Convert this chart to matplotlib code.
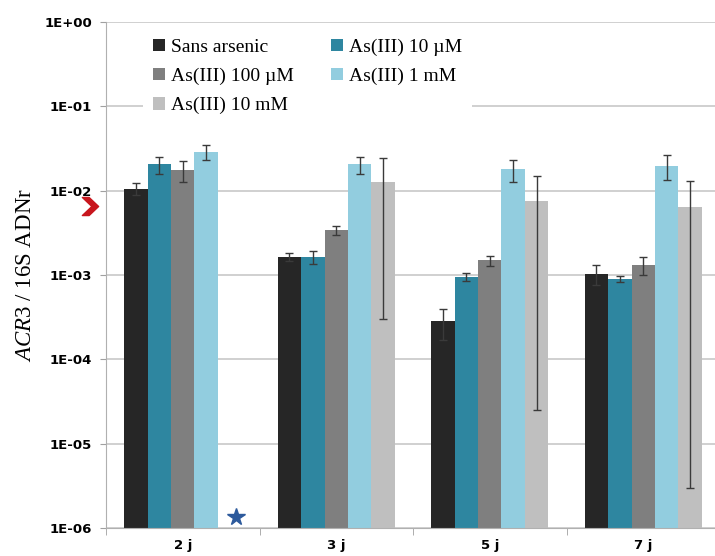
import numpy as np
import matplotlib.pyplot as plt
from matplotlib.path import Path

# data
days = ['2 j', '3 j', '5 j', '7 j']
series = ['Sans arsenic', 'As(III) 10 µM', 'As(III) 100 µM', 'As(III) 1 mM', 'As(III) 10 mM']
colors = ['#262626', '#2e86a0', '#7f7f7f', '#92cddf', '#bfbfbf']

sans_arsenic = [0.0106, 0.00164, 0.00028, 0.00104]
sans_arsenic_err = [0.0018, 0.00016, 0.00011, 0.00028]
as_10um = [0.0205, 0.00164, 0.00095, 0.00089]
as_10um_err = [0.0047, 0.0003, 0.0001, 0.00007]
as_100um = [0.0176, 0.00341, 0.00149, 0.00132]
as_100um_err = [0.0049, 0.0004, 0.0002, 0.00032]
as_1mm = [0.029, 0.0205, 0.0179, 0.0198]
as_1mm_err = [0.006, 0.0047, 0.0052, 0.0066]
as_10mm = [np.nan, 0.0125, 0.0075, 0.00644]
as_10mm_err = [np.nan, 0.0122, 0.007475, 0.006437]

values = [sans_arsenic, as_10um, as_100um, as_1mm, as_10mm]
errors = [sans_arsenic_err, as_10um_err, as_100um_err, as_1mm_err, as_10mm_err]

threshold = 0.0066   # red arrow on the y axis
missing_mark = 1.35e-6  # star where 10 mM is missing at 2 j

plt.rcParams['mathtext.fontset'] = 'custom'
plt.rcParams['mathtext.rm'] = 'Liberation Serif'
plt.rcParams['mathtext.it'] = 'Liberation Serif:italic'

fig = plt.figure(figsize=(7.15, 5.56), dpi=100)
ax = fig.add_axes([106 / 715, 28 / 556, 614 / 715, 506 / 556])

x = np.arange(len(days))
width = 0.153
for i, (vals, errs) in enumerate(zip(values, errors)):
    pos = x + (i - 2) * width
    ax.bar(pos, vals, width, bottom=1e-6, color=colors[i], label=series[i], zorder=2)
    ax.errorbar(pos, vals, yerr=errs, fmt='none', ecolor='#3a3a3a', elinewidth=1,
                capsize=3, capthick=1, zorder=3)

ax.set_yscale('log')
ax.set_ylim(1e-6, 1)
ax.set_xlim(-0.5, 3.5)
ax.set_yticks([1, 1e-1, 1e-2, 1e-3, 1e-4, 1e-5, 1e-6])
ax.set_yticklabels(['1E+00', '1E-01', '1E-02', '1E-03', '1E-04', '1E-05', '1E-06'])
ax.yaxis.set_minor_locator(plt.NullLocator())
ax.grid(axis='y', color='#c8c8c8', linewidth=1.2, zorder=0)
ax.set_axisbelow(True)

ax.set_xticks(x)
ax.set_xticklabels(days)
ax.set_xticks(np.arange(-0.5, 4, 1), minor=True)
ax.tick_params(axis='x', which='major', length=0, pad=8)
ax.tick_params(axis='x', which='minor', length=5, color='#a0a0a0')
ax.tick_params(axis='y', length=4, color='#a0a0a0', pad=6)
for lab in ax.get_xticklabels() + ax.get_yticklabels():
    lab.set_fontweight('bold')
    lab.set_fontsize(9.5)

for s in ['top', 'right']:
    ax.spines[s].set_visible(False)
for s in ['left', 'bottom']:
    ax.spines[s].set_color('#b0b0b0')

ax.set_ylabel(r'$\it{ACR3}$ / 16S ADNr', fontsize=16.5, family='Liberation Serif', labelpad=6)

# star for missing value
ax.plot(x[0] + 2 * width + 0.04, missing_mark, marker='*', color='#2d5a9c',
        markersize=13, clip_on=False, zorder=4)

# red chevron marking the threshold
chevron = Path([(-0.9, 1), (-0.15, 1), (0.9, 0), (-0.15, -1), (-0.9, -1), (0.15, 0), (-0.9, 1)],
               [Path.MOVETO] + [Path.LINETO] * 5 + [Path.CLOSEPOLY])
ax.plot([-0.5 - 0.105], [threshold], marker=chevron, color='#c8161d',
        markersize=13, clip_on=False, zorder=5)

handles, labels = ax.get_legend_handles_labels()
order = [0, 2, 4, 1, 3]
leg = ax.legend([handles[k] for k in order], [labels[k] for k in order], ncol=2,
                loc='upper left', bbox_to_anchor=(0.045, 1.006), frameon=True,
                fancybox=False, edgecolor='none', facecolor='white', framealpha=1,
                prop={'family': 'Liberation Serif', 'size': 14},
                handlelength=0.6, handleheight=0.6, handletextpad=0.3,
                labelspacing=0.62, columnspacing=1.95, borderpad=0.5)

fig.savefig('out.png', dpi=100)
